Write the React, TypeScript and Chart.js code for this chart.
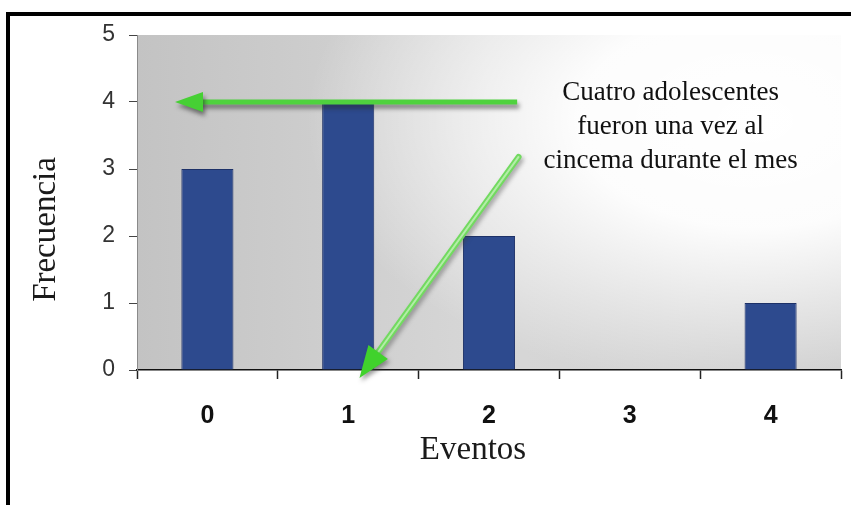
import { useEffect, useRef } from "react";
import { Chart, registerables } from "chart.js";

Chart.register(...registerables);

// ---- data ----
const categories = ["0", "1", "2", "3", "4"];
const frequencies = [3, 4, 2, 0, 1];
const yTicks = [0, 1, 2, 3, 4, 5];
const xTitle = "Eventos";
const yTitle = "Frecuencia";
const noteLines = ["Cuatro adolescentes", "fueron una vez al", "cincema durante el mes"];
// annotation arrows in data units: [fromX, fromY, toX, toY]
const arrowHorizontal = [2.2, 4, -0.23, 4];
const arrowDiagonal = [2.21, 3.18, 1.08, -0.12];

const W = 851;
const H = 505;

function drawHead(ctx: CanvasRenderingContext2D, x1: number, y1: number, x2: number, y2: number, len: number, half: number, color: string) {
  const a = Math.atan2(y2 - y1, x2 - x1);
  const bx = x2 - Math.cos(a) * len;
  const by = y2 - Math.sin(a) * len;
  const px = -Math.sin(a) * half;
  const py = Math.cos(a) * half;
  ctx.beginPath();
  ctx.moveTo(x2, y2);
  ctx.lineTo(bx + px, by + py);
  ctx.lineTo(bx - px, by - py);
  ctx.closePath();
  ctx.fillStyle = color;
  ctx.fill();
  return [bx, by];
}

const backgroundPlugin = {
  id: "plotBackground",
  beforeDraw(chart: any) {
    const { ctx, chartArea } = chart;
    const { left, top, right, bottom } = chartArea;
    ctx.save();
    ctx.beginPath();
    ctx.rect(left, top, right - left, bottom - top);
    ctx.clip();
    const lin = ctx.createLinearGradient(left, 0, right, 0);
    lin.addColorStop(0, "#c3c3c3");
    lin.addColorStop(0.5, "#d7d7d7");
    lin.addColorStop(1, "#cdcdcd");
    ctx.fillStyle = lin;
    ctx.fillRect(left, top, right - left, bottom - top);
    const cx = left + (right - left) * 0.88;
    const cy = top + 85;
    ctx.translate(cx, cy);
    ctx.scale(1.5, 0.9);
    const rad = ctx.createRadialGradient(0, 0, 0, 0, 0, 300);
    rad.addColorStop(0, "rgba(255,255,255,1)");
    rad.addColorStop(0.4, "rgba(255,255,255,0.95)");
    rad.addColorStop(1, "rgba(255,255,255,0)");
    ctx.fillStyle = rad;
    ctx.fillRect(-2000, -2000, 4000, 4000);
    ctx.restore();
  },
};

const annotationPlugin = {
  id: "annotations",
  afterDraw(chart: any) {
    const { ctx, chartArea } = chart;
    const xs = chart.scales.x;
    const ys = chart.scales.y;

    // axis titles
    ctx.save();
    ctx.fillStyle = "#1a1a1a";
    ctx.font = "33px 'Liberation Serif'";
    ctx.textAlign = "center";
    ctx.textBaseline = "alphabetic";
    ctx.fillText(xTitle, (chartArea.left + chartArea.right) / 2 - 16, chartArea.bottom + 89);
    ctx.save();
    ctx.translate(55, (chartArea.top + chartArea.bottom) / 2 + 27);
    ctx.rotate(-Math.PI / 2);
    ctx.fillText(yTitle, 0, 0);
    ctx.restore();

    // note text
    ctx.font = "27px 'Liberation Serif'";
    ctx.fillStyle = "#111";
    const nx = xs.getPixelForValue(3.29);
    noteLines.forEach((t, i) => {
      ctx.fillText(t, nx, chartArea.top + 65 + i * 34);
    });
    ctx.restore();

    // horizontal arrow
    {
      const [fx, fy, tx, ty] = arrowHorizontal;
      const x1 = xs.getPixelForValue(fx);
      const y1 = ys.getPixelForValue(fy);
      const x2 = xs.getPixelForValue(tx);
      const y2 = ys.getPixelForValue(ty);
      ctx.save();
      ctx.shadowColor = "rgba(40,40,40,0.55)";
      ctx.shadowBlur = 4;
      ctx.shadowOffsetX = 2;
      ctx.shadowOffsetY = 4;
      ctx.strokeStyle = "#4fd23e";
      ctx.lineWidth = 5;
      ctx.beginPath();
      ctx.moveTo(x1, y1);
      ctx.lineTo(x2 + 20, y2);
      ctx.stroke();
      drawHead(ctx, x1, y1, x2, y2, 28, 10, "#46d034");
      ctx.restore();
    }

    // diagonal arrow
    {
      const [fx, fy, tx, ty] = arrowDiagonal;
      const x1 = xs.getPixelForValue(fx);
      const y1 = ys.getPixelForValue(fy);
      const x2 = xs.getPixelForValue(tx);
      const y2 = ys.getPixelForValue(ty);
      const a = Math.atan2(y2 - y1, x2 - x1);
      const ex = x2 - Math.cos(a) * 25;
      const ey = y2 - Math.sin(a) * 25;
      ctx.save();
      ctx.shadowColor = "rgba(60,60,60,0.4)";
      ctx.shadowBlur = 4;
      ctx.shadowOffsetX = 2;
      ctx.shadowOffsetY = 3;
      ctx.strokeStyle = "#72da60";
      ctx.lineWidth = 6;
      ctx.lineCap = "round";
      ctx.beginPath();
      ctx.moveTo(x1, y1);
      ctx.lineTo(ex, ey);
      ctx.stroke();
      ctx.shadowColor = "transparent";
      ctx.strokeStyle = "rgba(190,240,180,0.85)";
      ctx.lineWidth = 2;
      ctx.beginPath();
      ctx.moveTo(x1, y1);
      ctx.lineTo(ex, ey);
      ctx.stroke();
      ctx.shadowColor = "rgba(60,60,60,0.5)";
      ctx.shadowBlur = 4;
      ctx.shadowOffsetX = 2;
      ctx.shadowOffsetY = 3;
      drawHead(ctx, x1, y1, x2, y2, 32, 12, "#40d22c");
      ctx.restore();
    }
  },
};

export default function App() {
  const ref = useRef<HTMLCanvasElement | null>(null);

  useEffect(() => {
    if (!ref.current) return;
    const chart = new Chart(ref.current, {
      type: "bar",
      data: {
        labels: categories,
        datasets: [
          {
            data: frequencies,
            backgroundColor: "#2d4a8e",
            borderColor: "#1d3168",
            borderWidth: 1,
            categoryPercentage: 1,
            barPercentage: 0.37,
          },
        ],
      },
      options: {
        animation: false,
        responsive: false,
        devicePixelRatio: 1,
        layout: { padding: { top: 35, right: 10, left: 0, bottom: 0 } },
        plugins: { legend: { display: false }, tooltip: { enabled: false } },
        scales: {
          x: {
            offset: true,
            grid: {
              display: true,
              drawOnChartArea: false,
              drawTicks: true,
              tickLength: 9,
              tickColor: "#222",
              tickWidth: 1.5,
              offset: true,
            },
            border: { display: true, color: "#111", width: 1.5 },
            ticks: {
              color: "#111",
              font: { family: "'Liberation Sans'", size: 25, weight: "bold" },
              padding: 22,
            },
            afterFit: (s: any) => {
              s.height = H - 370;
            },
          },
          y: {
            min: 0,
            max: 5,
            afterBuildTicks: (s: any) => {
              s.ticks = yTicks.map((v) => ({ value: v }));
            },
            ticks: {
              color: "#333",
              font: { family: "'Liberation Sans'", size: 23 },
              padding: 14,
            },
            grid: { drawOnChartArea: false, tickLength: 8, tickColor: "#444" },
            border: { color: "#8a8a8a", width: 1 },
            afterFit: (s: any) => {
              s.width = 137;
            },
          },
        },
      },
      plugins: [backgroundPlugin, annotationPlugin],
    } as any);
    return () => chart.destroy();
  }, []);

  return (
    <div style={{ position: "fixed", left: 0, top: 0, width: W, height: H, background: "#fff", overflow: "hidden" }}>
      <div
        style={{
          position: "absolute",
          left: 6,
          top: 12,
          width: W + 20,
          height: H + 20,
          borderLeft: "4px solid #000",
          borderTop: "4px solid #000",
        }}
      />
      <canvas ref={ref} width={W} height={H} style={{ position: "absolute", left: 0, top: 0, display: "block" }} />
    </div>
  );
}
